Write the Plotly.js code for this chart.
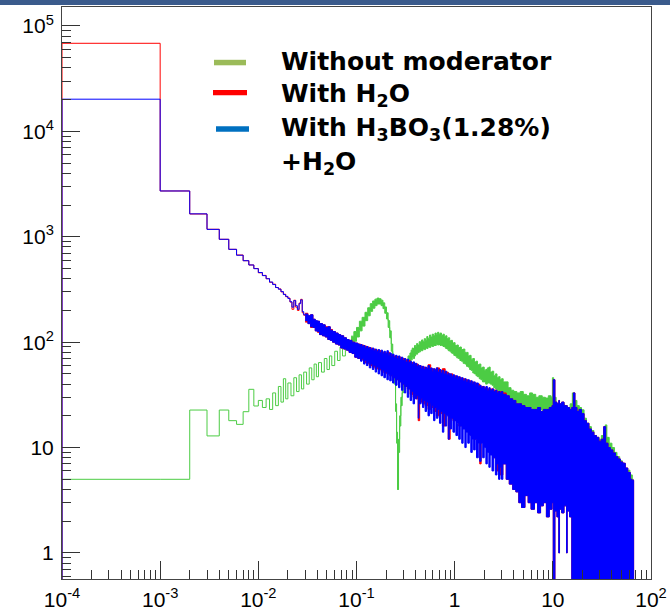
<!DOCTYPE html>
<html><head><meta charset="utf-8">
<script src="https://cdn.plot.ly/plotly-3.0.1.min.js"></script>
<style>html,body{margin:0;padding:0;background:#fff;} #chart{width:670px;height:614px;}</style>
</head><body><div id="chart"></div>
<script>
// ---- data (energy in MeV, counts per bin) ----
const BIN_W = 0.001;            // resolved bins at low energy
const AXIS_MIN_E = 1e-4;        // first bin [0,1e-3] is drawn from the axis edge
const FLOOR = 0.01;             // empty bins (drawn below the axis)

const redCounts  = [68500, 2720, 1645, 1178, 946, 760, 671, 593, 540, 500, 455, 430, 400, 370, 355, 330, 320, 300, 285, 270, 262, 240, 205, 250, 215, 200, 235, 255, 190, 180];
const blueCounts = [20200, 2720, 1650, 1175, 946, 760, 668, 593, 540, 498, 458, 428, 400, 372, 352, 330, 318, 302, 283, 272, 260, 242, 215, 248, 222, 205, 232, 252, 195, 182];

const greenEdges  = [1e-4, 0.001, 0.002, 0.003, 0.004, 0.005, 0.006, 0.007, 0.008, 0.009, 0.010, 0.011, 0.012, 0.013, 0.014, 0.015, 0.016, 0.017, 0.018, 0.019, 0.020, 0.0215, 0.023, 0.0245, 0.026, 0.0275, 0.029, 0.031, 0.033, 0.035, 0.037, 0.039, 0.041, 0.044, 0.047, 0.050, 0.053, 0.056, 0.060, 0.064, 0.068, 0.072, 0.077, 0.082, 0.088];
const greenCounts = [5.0, 5.0, 22.7, 12.9, 22.7, 18.0, 16.6, 21.9, 35.7, 24.8, 28, 24, 29, 23, 33, 25, 38, 27, 45, 29, 41, 31, 46, 34, 49, 36, 52, 40, 57, 44, 62, 47, 64, 52, 70, 55, 74, 60, 82, 67, 90, 74, 100, 84];

// dense (unresolved) region: upper / lower envelope of the fluctuating bins
const redBandE = [0.030,0.032,0.034,0.036,0.038,0.040,0.042,0.045,0.048,0.051,0.054,0.057,0.061,0.065,0.069,0.074,0.079,0.084,0.090,0.096,0.103,0.11,0.118,0.126,0.135,0.145,0.155,0.166,0.178,0.19,0.204,0.218,0.233,0.25,0.268,0.287,0.307,0.329,0.352,0.377,0.40,0.425,0.44,0.47,0.50,0.535,0.57,0.61,0.65,0.70,0.75,0.80,0.86,0.90,0.96,1.03,1.10,1.18,1.27,1.36,1.46,1.56,1.67,1.80,1.86,2.0,2.15,2.3,2.5,2.7,2.9,3.1,3.35,3.6,3.9,4.2,4.5,4.8,5.2,5.6,6.0,6.5,7.0,7.5,8.0,8.6,9.2,9.8,10.1,10.5,11.0,11.5,11.7,12.3,13.0,13.8,14.0,14.8,15.6,16.2,16.8,17.6,18.5,19.6,20.8,22.0,23.3,24.7,26.2,27.8,29.4,31.2,33.0,34.5,36.5,38.6,40.9,43.4,46.0,48.7,51.6,54.7,58.0,61.5,64.0,66.5];
const redHi    = [188,178,182,165,158,158,150,146,140,140,132,126,122,118,115,110,106,104,100,98,96,94,92,90,88,86,84,83,80,79,80,76,74,73,72,70,68,67,64,63,62,60,59,58,57,61,56,55,57,54,56,52,50,50,48,47,46,45,44,43,42,41,40,38,38,37,36,36,35,34,34,33,31,29,28,26,26,25,24,24,23,23,24,22,23,23,24,25,44,27,26,28,26,27,25,25,24,23,24,33,24,22,23,21,18,17,15,14,13,12.5,11.5,12,15.8,11,10,9.5,8.9,8.2,7.8,7.3,7.1,6.4,5.8,5.0,4.9,0.1];
const redLo    = [155,150,138,138,128,124,118,115,112,106,104,100,96,94,88,86,84,80,78,72,70,68,64,63,60,58,56,55,53,51,50,48,46,44,42,40,38,36,32,30,29,18,27,26,25,23,24,22,20,21,16,21,12,19,18,18,16,17,15,14,13,12,14,7,12,11,10,9,8,6,5.5,7,5,4.5,4,3.8,3,2.7,3.5,3,2.6,3,2.4,2.8,3,2.2,2.6,3,0.1,2.5,2.2,1,2.6,2.4,2.8,1,2.5,2.2,0.1,0.1,0.1,0.1,0.1,0.1,0.1,0.1,0.1,0.1,0.1,0.1,0.1,0.1,0.1,0.1,0.1,0.1,0.1,0.1,0.1,0.1,0.1,0.1,0.1,0.1,0.1,0.1];

const blueBandE = [0.030,0.032,0.034,0.036,0.038,0.040,0.042,0.045,0.048,0.051,0.054,0.057,0.061,0.065,0.069,0.074,0.079,0.084,0.090,0.096,
  0.103,0.107,0.11,0.114,0.118,0.122,0.126,0.131,0.135,0.14,0.145,0.15,0.155,0.16,0.166,0.172,0.178,0.184,0.19,0.197,0.204,0.211,0.218,0.226,0.233,0.241,0.25,0.259,0.268,0.277,0.287,0.297,0.307,0.318,0.329,0.34,0.352,0.364,0.377,0.39,0.40,0.412,0.425,0.432,0.44,0.455,0.47,0.485,0.50,0.517,0.535,0.553,0.57,0.59,0.61,0.63,0.65,0.675,0.70,0.725,0.75,0.775,0.80,0.83,0.86,0.88,0.90,0.93,0.96,1.0,1.03,1.07,1.10,1.14,1.18,1.22,1.27,1.31,1.36,1.41,1.46,1.51,1.56,1.62,1.67,1.74,1.80,1.86,1.93,2.0,2.08,2.15,2.23,2.3,2.4,2.5,2.6,2.7,2.8,2.9,3.0,3.1,
  3.35,3.6,3.9,4.2,4.5,4.8,5.2,5.6,6.0,6.5,7.0,7.5,8.0,8.6,9.2,9.8,10.1,10.5,11.0,11.5,11.7,12.3,13.0,13.8,14.0,14.8,15.6,16.2,16.8,17.6,18.5,19.6,20.8,22.0,23.3,24.7,26.2,27.8,29.4,31.2,33.0,34.5,36.5,38.6,40.9,43.4,46.0,48.7,51.6,54.7,58.0,61.5,64.0,66.5];
const blueHi = [185,178,182,165,160,158,150,146,138,140,130,126,122,118,115,110,106,104,100,98,
  96,92,95,91,93,88,91,87,89,85,88,83,86,82,85,80,84,78,82,78,83,75,79,73,77,72,75,70,74,69,72,67,70,65,69,64,66,62,65,60,63,59,61,58,60,56,59,55,58,56,60,55,57,53,56,54,57,52,55,51,54,50,53,49,51,48,50,47,49,46,48,45,47,44,46,43,45,42,44,41,43,40,42,39,41,38,39,37,38,36,38,35,37,35,36,34,35,33,34,33,34,32,
  31,29,28,26,26,25,24,24,23,23,24,22,23,23,24,25,44,27,26,28,26,27,25,25,24,23,24,33,24,22,23,21,18,17,15,14,13,12.5,11.5,12,15.8,11,10,9.5,8.9,8.2,7.8,7.3,7.1,6.4,5.8,5.0,4.9,0.1];
const blueLo = [160,150,140,138,128,126,118,115,112,106,104,100,96,94,88,86,84,80,78,72,
  70,74,66,70,62,67,60,64,57,62,55,60,52,58,50,56,48,54,46,52,44,50,43,48,41,46,39,44,37,42,35,40,33,38,30,36,28,34,26,32,29,31,19,30,26,29,24,28,22,27,20,26,21,25,18,24,19,23,17,22,14,21,16,20,12,19,15,19,14,18,13,17,12,16,11,15,10,14,11,13,9,12,9.5,12,8,11,7.4,11,8,10,7,9,6.5,8.5,6,8,5.5,7,5,6.5,5,7,
  5,4.5,4,3.8,3,2.7,3.5,3,2.6,3,2.4,2.8,3,2.2,2.6,3,0.1,2.5,2.2,1,2.6,2.4,2.8,1,2.5,2.2,0.1,0.1,0.1,0.1,0.1,0.1,0.1,0.1,0.1,0.1,0.1,0.1,0.1,0.1,0.1,0.1,0.1,0.1,0.1,0.1,0.1,0.1,0.1,0.1,0.1,0.1,0.1,0.1];

const greenBandE = [0.088,0.094,0.10,0.107,0.114,0.122,0.13,0.138,0.146,0.154,0.162,0.170,0.178,0.186,0.194,0.202,0.210,0.218,0.226,0.234,0.242,0.250,0.256,0.262,0.268,0.275,0.283,0.292,
  0.30,0.31,0.32,0.335,0.35,0.36,0.37,0.38,0.39,0.40,0.41,0.42,0.435,0.45,0.46,0.475,0.49,0.505,0.52,0.535,0.555,0.57,0.59,0.61,0.63,0.65,0.67,0.69,0.71,0.735,0.76,0.785,0.81,0.835,0.86,0.89,0.92,0.95,0.98,1.01,1.05,1.09,1.13,1.17,1.22,1.27,1.32,1.37,1.42,1.47,1.53,1.59,1.65,1.71,1.78,1.85,1.92,2.0,2.07,2.15,2.23,2.3,2.4,2.5,2.6,2.7,2.8,2.9,3.0,3.12,3.25,
  3.5,3.75,4.0,4.3,4.65,5.0,5.4,5.8,6.2,6.7,7.2,7.8,8.4,9.0,9.6,9.9,10.2,10.8,11.5,12.3,13.1,14.0,15.0,15.8,16.6,17.6,18.6,19.6,20.8,22.0,23.3,24.7,26.2,27.8,29.5,31.2,33.0,34.2,35.5,37.5,40.0,42.5,45.0,48.0,51.0,54.0,57.5,61.0,64.5,66.0];
const greenHi = [114,126,138,158,172,192,212,232,246,256,262,258,250,236,216,190,160,128,96,70,46,26,14,4,12,20,30,40,
  48,57,61,74,79,84,88,86,93,91,97,94,101,98,105,101,108,104,113,108,117,112,119,115,122,117,124,119,122,116,119,113,115,108,110,103,104,98,99,93,94,89,90,85,86,80,80,74,75,69,70,65,66,61,62,57,58,54,55,57,58,52,53,48,50,46,47,44,45,42,42,
  37,35,34,33,34,32,31,33,32,30,31,30,29.5,31,30,46,30,26,24.5,26,25,24,26,33,28,25,24,22.8,19,17,15.8,14.5,13,12.5,12,13,15,16.4,12.5,11,10,9,8.2,7.5,7,6.1,6.1,5.5,5,0.1];
const greenLo = [92,102,112,128,142,160,178,196,210,222,230,230,222,208,188,166,138,110,82,60,40,22,11,4,9,16,25,33,
  40,45,53,59,67,68,72,70,74,77,77,80,81,84,83,86,85,88,87,90,89,92,91,93,93,96,94,95,93,93,91,90,87,86,83,82,79,78,75,74,71,70,67,66,63,62,59,58,55,54,51,50,48,47,45,44,42,42,40,41,41,40,39,37,36,35,34,33,33,31,31,
  29,27,26,25,25,24,23,24,23,22,23,22,22,23,22,24,22,20,19,20,19,18,19,20,19,18,17,16,14,12,11,10.5,10,9.5,9,9,10,10,9,8,7.5,6.8,6.2,5.6,5.2,4.8,4.6,4.2,3.8,0.1];

// axis tick labels
const xTickVals = [1e-4, 1e-3, 1e-2, 1e-1, 1, 10, 100];
const xTickText = ['10<sup>-4</sup>', '10<sup>-3</sup>', '10<sup>-2</sup>', '10<sup>-1</sup>', '1', '10', '10<sup>2</sup>'];
const yTickVals = [1, 10, 100, 1e3, 1e4, 1e5];
const yTickText = ['1', '10', '10<sup>2</sup>', '10<sup>3</sup>', '10<sup>4</sup>', '10<sup>5</sup>'];

// legend
const legendLabels = ['Without moderator', 'With H<sub>2</sub>O', 'With H<sub>3</sub>BO<sub>3</sub>(1.28%)', '+H<sub>2</sub>O'];

// ---- build ----
const GREEN = '#4ccc44', RED = '#ff0000', BLUE = '#0000ff';
function rbEdges(n){ const e=[AXIS_MIN_E]; for(let i=1;i<=n;i++) e.push(i*BIN_W); return e; }
function stepTrace(edges, counts, color){
  const x=[edges[0]].concat(edges);
  const y=[FLOOR].concat(counts).concat([counts[counts.length-1]]);
  return {x, y, type:'scatter', mode:'lines', line:{shape:'hv', width:1, color}, hoverinfo:'skip'};
}
function band(E, lo, hi, color){
  return [
    {x:E, y:lo, type:'scatter', mode:'lines', line:{shape:'hv', width:1, color}, hoverinfo:'skip'},
    {x:E, y:hi, type:'scatter', mode:'lines', fill:'tonexty', fillcolor:color, line:{shape:'hv', width:1, color}, hoverinfo:'skip'}
  ];
}
function minorVals(lo, hi){ const v=[]; for(let p=lo;p<hi;p++) for(let k=2;k<=9;k++) v.push(k*Math.pow(10,p)); return v; }

const traces = [
  stepTrace(greenEdges, greenCounts, GREEN),
  ...band(greenBandE, greenLo, greenHi, GREEN),
  stepTrace(rbEdges(redCounts.length), redCounts, RED),
  ...band(redBandE, redLo, redHi, RED),
  stepTrace(rbEdges(blueCounts.length), blueCounts, BLUE),
  ...band(blueBandE, blueLo, blueHi, BLUE)
];

const L=62, R=651, T=7, B=579;
const px = v => (v-L)/(R-L), py = v => (B-v)/(B-T);
const tickFont = {family:'Liberation Sans, Arial, sans-serif', size:21, color:'#000'};
const axisCommon = {type:'log', tickmode:'array', ticks:'inside', ticklen:18, tickwidth:1, tickcolor:'#333',
  showline:true, linecolor:'#444', linewidth:1, mirror:true, showgrid:false, zeroline:false, tickfont:tickFont};

const legendFont = {family:'DejaVu Sans, sans-serif', size:25, color:'#000'};
const legendY = [62, 95, 129, 163];
const annotations = legendLabels.map((t,i)=>({xref:'paper', yref:'paper', x:px(279), y:py(legendY[i]), xanchor:'left', yanchor:'middle', text:'<b>'+t+'</b>', showarrow:false, font:legendFont}));

const shapes = [
  {type:'rect', xref:'paper', yref:'paper', x0:px(0), x1:px(670), y0:py(5), y1:py(-2), fillcolor:'#3b5b8c', line:{width:0}, layer:'above'},
  {type:'rect', xref:'paper', yref:'paper', x0:px(214), x1:px(246), y0:py(65.3), y1:py(59.8), fillcolor:'#9bbb59', line:{width:0}},
  {type:'rect', xref:'paper', yref:'paper', x0:px(213), x1:px(247), y0:py(95.3), y1:py(90), fillcolor:'#ff0000', line:{width:0}},
  {type:'rect', xref:'paper', yref:'paper', x0:px(216), x1:px(249), y0:py(131.7), y1:py(126.3), fillcolor:'#0070c0', line:{width:0}}
];

const layout = {
  width:670, height:614, margin:{l:L, r:670-R, t:T, b:614-B, pad:0},
  paper_bgcolor:'#fff', plot_bgcolor:'#fff', showlegend:false,
  xaxis: Object.assign({}, axisCommon, {range:[-4,2], tickvals:xTickVals, ticktext:xTickText, ticklabelstandoff:2,
    minor:{tickmode:'array', tickvals:minorVals(-4,2), ticks:'inside', ticklen:9, tickcolor:'#333', tickwidth:1, showgrid:false}}),
  yaxis: Object.assign({}, axisCommon, {range:[-0.247, 5.18], tickvals:yTickVals, ticktext:yTickText, ticklabelstandoff:3,
    minor:{tickmode:'array', tickvals:minorVals(-1,6), ticks:'inside', ticklen:9, tickcolor:'#333', tickwidth:1, showgrid:false}}),
  annotations, shapes
};
Plotly.newPlot('chart', traces, layout, {displayModeBar:false, staticPlot:true});
</script>
</body></html>
